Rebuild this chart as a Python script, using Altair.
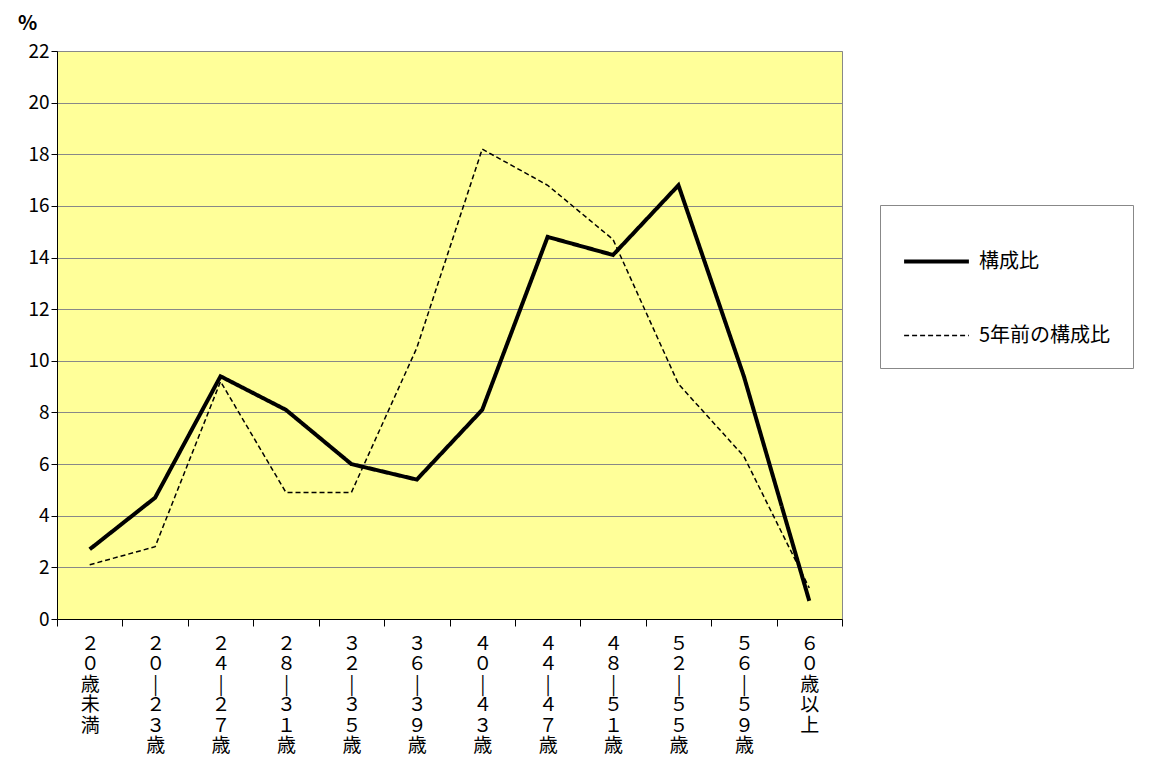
import altair as alt
import pandas as pd

cats = ["２０歳未満", "２０|２３歳", "２４|２７歳", "２８|３１歳", "３２|３５歳", "３６|３９歳",
        "４０|４３歳", "４４|４７歳", "４８|５１歳", "５２|５５歳", "５６|５９歳", "６０歳以上"]
current = [2.7, 4.7, 9.4, 8.1, 6.0, 5.4, 8.1, 14.8, 14.1, 16.8, 9.4, 0.7]
previous = [2.1, 2.8, 9.2, 4.9, 4.9, 10.5, 18.2, 16.8, 14.7, 9.1, 6.3, 1.2]
series = ["構成比", "5年前の構成比"]

rows = []
for c, a, b in zip(cats, current, previous):
    rows.append({"cat": c, "v": a, "s": series[0]})
    rows.append({"cat": c, "v": b, "s": series[1]})
df = pd.DataFrame(rows)

FONT = "Noto Sans CJK JP"

chart = alt.Chart(df).mark_line(color="black").encode(
    x=alt.X("cat:N", sort=cats, title=None,
            scale=alt.Scale(type="band", paddingInner=0, paddingOuter=0),
            axis=alt.Axis(labelAngle=0, labelExpr="split(datum.label, '')",
                          labelFontSize=19, labelLineHeight=20.5, labelColor="black",
                          labelFont=FONT, labelPadding=8, tickBand="extent",
                          tickColor="black", tickSize=7, domainColor="black", grid=False)),
    y=alt.Y("v:Q", title="%", scale=alt.Scale(domain=[0, 22]),
            axis=alt.Axis(values=list(range(0, 23, 2)), labelFontSize=19, labelColor="black",
                          labelFont=FONT, domainColor="black", tickColor="black", tickSize=6,
                          gridColor="#888888", titleAngle=0, titleX=-30, titleY=-18,
                          titleFontSize=20, titleFont=FONT, titleFontWeight="bold")),
    strokeDash=alt.StrokeDash("s:N", sort=series,
                              scale=alt.Scale(domain=series, range=[[1, 0], [5, 3]]),
                              legend=alt.Legend(title=None, orient="none", legendX=823, legendY=154,
                                                fillColor="white", strokeColor="#888888",
                                                padding=22, rowPadding=30, symbolType="stroke",
                                                symbolSize=4200, symbolStrokeColor="black",
                                                labelOffset=8, labelLimit=300,
                                                labelFontSize=20, labelFont=FONT, labelColor="black")),
    strokeWidth=alt.StrokeWidth("s:N", sort=series,
                                scale=alt.Scale(domain=series, range=[4, 1.5]), legend=None),
).properties(
    width=785, height=568, background="white",
    autosize=alt.AutoSizeParams(type="none"),
    padding={"left": 49, "top": 43, "right": 320, "bottom": 140},
).configure_view(fill="#FFFF99", stroke="#888888")

chart.save("out.html", embed_options={"renderer": "svg", "actions": False})
